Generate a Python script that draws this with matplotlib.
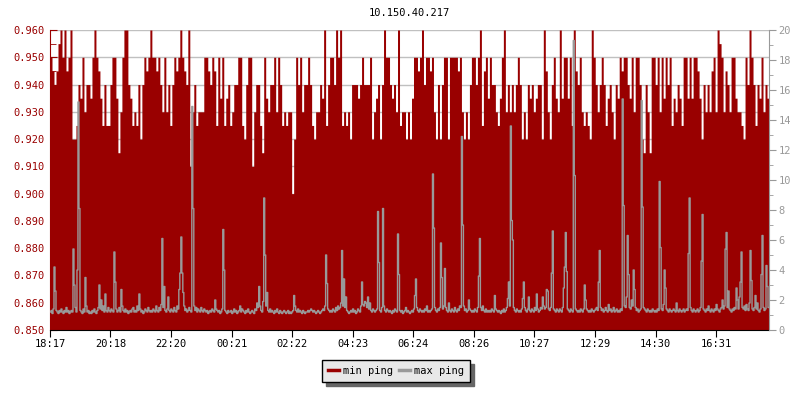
import numpy as np
import matplotlib
matplotlib.use('Agg')
import matplotlib.pyplot as plt
from matplotlib.lines import Line2D
from matplotlib.ticker import MultipleLocator, FormatStrFormatter

plt.rcParams['font.family'] = 'DejaVu Sans Mono'
plt.rcParams['font.size'] = 7.5

# --- datos ---
host = '10.150.40.217'
start_time = '18:17'
min_step = 4   # min ping: un punto cada 4 minutos
max_step = 2   # max ping: un punto cada 2 minutos
time_labels = ['18:17', '20:18', '22:20', '00:21', '02:22', '04:23',
               '06:24', '08:26', '10:27', '12:29', '14:30', '16:31']

# min ping (ms), eje izquierdo
min_ping = [
    0.950, 0.945, 0.940, 0.945, 0.955, 0.960, 0.950, 0.960, 0.945, 0.950,
    0.960, 0.920, 0.920, 0.925, 0.940, 0.935, 0.950, 0.930, 0.940, 0.940,
    0.935, 0.950, 0.960, 0.950, 0.945, 0.935, 0.925, 0.940, 0.925, 0.925,
    0.940, 0.950, 0.950, 0.935, 0.915, 0.930, 0.950, 0.960, 0.960, 0.940,
    0.935, 0.925, 0.930, 0.925, 0.940, 0.920, 0.940, 0.950, 0.945, 0.950,
    0.960, 0.950, 0.950, 0.945, 0.950, 0.940, 0.930, 0.950, 0.930, 0.940,
    0.925, 0.940, 0.950, 0.945, 0.950, 0.960, 0.950, 0.945, 0.940, 0.960,
    0.910, 0.930,
    0.940, 0.925, 0.930, 0.930, 0.930, 0.950, 0.950, 0.945, 0.940, 0.950,
    0.945, 0.925, 0.950, 0.935, 0.950, 0.925, 0.935, 0.940, 0.925, 0.930,
    0.940, 0.940, 0.950, 0.950, 0.925, 0.920, 0.940, 0.950, 0.950, 0.910,
    0.930, 0.940, 0.940, 0.925, 0.915, 0.950, 0.935, 0.930, 0.940, 0.940,
    0.950, 0.930, 0.950, 0.940, 0.925, 0.930, 0.925, 0.930, 0.930, 0.900,
    0.920, 0.950, 0.940, 0.950, 0.930, 0.940, 0.940, 0.950, 0.940, 0.925,
    0.920, 0.930, 0.930, 0.940, 0.935, 0.960, 0.925, 0.940, 0.950, 0.950,
    0.940, 0.960,
    0.950, 0.960, 0.925, 0.930, 0.925, 0.930, 0.920, 0.940, 0.940, 0.940,
    0.935, 0.940, 0.950, 0.940, 0.940, 0.940, 0.950, 0.920, 0.930, 0.935,
    0.940, 0.920, 0.940, 0.960, 0.950, 0.950, 0.940, 0.935, 0.940, 0.930,
    0.960, 0.925, 0.930, 0.930, 0.920, 0.930, 0.920, 0.935, 0.950, 0.950,
    0.945, 0.950, 0.960, 0.940, 0.950, 0.950, 0.945, 0.950, 0.930, 0.920,
    0.940, 0.920, 0.940, 0.950, 0.950, 0.920, 0.950, 0.950, 0.950, 0.950,
    0.945, 0.950, 0.930, 0.920, 0.930, 0.920, 0.940, 0.950, 0.950, 0.940,
    0.950, 0.960,
    0.925, 0.945, 0.950, 0.935, 0.950, 0.940, 0.940, 0.930, 0.925, 0.935,
    0.950, 0.960, 0.930, 0.940, 0.930, 0.940, 0.930, 0.940, 0.950, 0.940,
    0.920, 0.930, 0.920, 0.940, 0.935, 0.940, 0.930, 0.935, 0.940, 0.940,
    0.920, 0.960, 0.945, 0.930, 0.920, 0.940, 0.950, 0.935, 0.930, 0.960,
    0.935, 0.950, 0.950, 0.935, 0.950, 0.925, 0.960, 0.945, 0.940, 0.950,
    0.930, 0.925, 0.930, 0.925, 0.920, 0.960, 0.950, 0.940, 0.930, 0.940,
    0.950, 0.940, 0.925, 0.935, 0.940, 0.930, 0.920, 0.940, 0.935, 0.950,
    0.945, 0.950,
    0.950, 0.940, 0.935, 0.950, 0.930, 0.950, 0.950, 0.940, 0.920, 0.915,
    0.940, 0.930, 0.915, 0.950, 0.950, 0.940, 0.950, 0.930, 0.950, 0.935,
    0.950, 0.940, 0.950, 0.925, 0.935, 0.930, 0.940, 0.935, 0.925, 0.950,
    0.950, 0.935, 0.950, 0.935, 0.950, 0.950, 0.945, 0.935, 0.920, 0.940,
    0.930, 0.940, 0.930, 0.945, 0.950, 0.930, 0.960, 0.955, 0.950, 0.930,
    0.945, 0.940, 0.930, 0.950, 0.950, 0.935, 0.930, 0.930, 0.925, 0.920,
    0.950, 0.940, 0.960, 0.950, 0.940, 0.925, 0.940, 0.935, 0.950, 0.930,
    0.940, 0.935,
]

# max ping (ms), eje derecho
max_ping = [
    1.2, 1.3, 1.1, 1.4, 4.2, 2.6, 1.3, 1.2, 1.1, 1.3, 1.2, 1.4, 1.2, 1.1, 1.3, 1.2, 1.5, 1.2, 1.3, 1.1,
    1.2, 1.3, 1.2, 5.4, 3.0, 1.5, 1.2, 4.0, 15.2, 8.1, 1.3, 1.2, 1.1, 1.4, 1.2, 3.5, 1.6, 1.2, 1.3, 1.1,
    1.2, 1.1, 1.3, 1.2, 1.4, 1.2, 1.1, 1.3, 1.5, 3.0, 1.4, 2.0, 1.3, 1.6, 1.2, 2.4, 1.3, 1.2, 1.5, 1.3,
    1.2, 1.4, 1.3, 1.2, 5.2, 3.2, 1.4, 1.2, 1.3, 1.5, 1.2, 2.7, 1.6, 1.3, 1.2, 1.4, 1.2, 1.3, 1.1, 1.2,
    1.3, 1.2, 1.4, 1.5, 1.2, 1.3, 1.2, 1.6, 1.3, 2.4, 1.4, 1.2, 1.3, 1.1, 1.2, 1.4, 1.3, 1.2, 1.5, 1.3,
    1.2, 1.3, 1.2, 1.4, 1.3, 1.2, 1.6, 1.3, 1.2, 1.5, 1.3, 1.7, 6.1, 1.5, 2.9, 1.3, 1.2, 1.4, 2.2, 1.3,
    1.2, 1.4, 1.3, 1.2, 1.5, 1.3, 1.2, 1.6, 1.4, 2.7, 3.8, 6.2, 3.8, 2.5, 1.6, 1.3, 1.4, 1.2, 1.3, 1.5,
    1.3, 1.2, 14.9, 8.1, 1.6, 1.3, 1.5, 1.2, 1.4, 1.3, 1.2, 1.5, 1.3, 1.2, 1.4, 1.3, 1.2, 1.3, 1.1, 1.2,
    1.3, 1.2, 1.4, 1.3, 1.2, 2.0, 1.4, 1.3, 1.2, 1.3, 1.1, 1.2, 1.4, 6.7, 4.0, 1.3, 1.2, 1.1, 1.3, 1.2,
    1.2, 1.3, 1.1, 1.2, 1.4, 1.2, 1.3, 1.1, 1.2, 1.3, 1.6, 1.2, 1.4, 1.3, 1.2, 1.1, 1.3, 1.2, 1.4, 1.2,
    1.1, 1.2, 1.3, 1.2, 1.1, 1.4, 1.3, 1.8, 1.5, 2.9, 1.6, 1.3, 1.2, 1.9, 8.8, 5.0, 1.6, 2.5, 1.3, 1.2,
    1.4, 1.2, 1.3, 1.2, 1.1, 1.3, 1.2, 1.4, 1.2, 1.1, 1.3, 1.2, 1.1, 1.2, 1.3, 1.2, 1.1, 1.2, 1.3, 1.1,
    1.2, 1.1, 1.2, 1.3, 2.3, 1.6, 1.3, 1.2, 1.4, 1.2, 1.3, 1.2, 1.1, 1.3, 1.2, 1.1, 1.2, 1.2, 1.3, 1.2,
    1.3, 1.4, 1.3, 1.2, 1.3, 1.2, 1.1, 1.2, 1.3, 1.2, 1.1, 1.2, 1.3, 1.4, 1.3, 1.6, 5.0, 3.1, 1.4, 1.3,
    1.2, 1.3, 1.2, 1.4, 1.3, 1.2, 1.5, 1.3, 1.6, 1.4, 1.5, 1.8, 5.3, 1.6, 3.4, 1.5, 2.2, 1.3, 1.2, 1.1,
    1.2, 1.3, 1.2, 1.4, 1.2, 1.3, 1.1, 1.2, 1.4, 1.3, 1.2, 1.6, 3.2, 1.7, 1.6, 1.9, 1.8, 1.5, 2.2, 1.4,
    1.8, 1.3, 1.2, 1.4, 1.3, 1.2, 1.3, 1.4, 7.9, 4.5, 1.3, 1.2, 1.5, 8.1, 1.6, 1.3, 1.2, 1.4, 1.3, 1.2,
    1.3, 1.2, 1.1, 1.3, 1.2, 1.4, 1.3, 1.2, 6.4, 3.7, 1.3, 1.2, 1.3, 1.1, 1.2, 1.3, 1.5, 1.2, 1.3, 1.2,
    1.1, 1.2, 1.3, 1.2, 1.4, 2.3, 3.4, 1.5, 1.3, 1.2, 1.4, 1.3, 1.2, 1.3, 1.2, 1.4, 1.3, 1.6, 1.2, 1.3,
    1.2, 1.3, 1.4, 10.4, 6.8, 1.5, 1.3, 1.2, 1.4, 1.3, 1.5, 5.8, 3.5, 1.4, 1.6, 4.1, 1.5, 1.3, 1.2, 1.8,
    1.3, 1.2, 1.4, 1.3, 1.2, 1.5, 1.3, 1.2, 1.4, 1.3, 1.6, 1.5, 12.9, 7.0, 1.6, 1.3, 1.4, 1.2, 1.3, 2.0,
    1.4, 1.3, 1.2, 1.3, 1.2, 1.4, 1.3, 1.2, 1.5, 3.6, 6.1, 1.5, 1.3, 1.6, 1.3, 1.2, 1.4, 1.2, 1.3, 1.2,
    1.3, 1.2, 1.4, 1.3, 1.2, 2.3, 1.4, 1.3, 1.2, 1.3, 1.2, 1.1, 1.3, 1.2, 1.4, 1.2, 1.3, 1.5, 2.1, 3.2,
    1.6, 13.6, 7.3, 6.0, 1.5, 1.3, 1.2, 1.4, 1.3, 1.2, 1.3, 1.2, 1.4, 2.1, 3.2, 1.5, 1.3, 1.2, 1.4, 2.2,
    1.3, 1.2, 1.4, 1.3, 1.2, 1.5, 1.3, 2.4, 1.4, 1.2, 1.3, 1.5, 1.4, 2.2, 1.6, 1.4, 1.5, 2.7, 2.6, 1.4,
    1.3, 1.5, 3.8, 6.6, 1.4, 1.3, 1.2, 1.4, 1.3, 1.2, 1.4, 1.3, 1.2, 1.5, 2.8, 4.2, 6.5, 3.9, 1.4, 1.3,
    1.2, 1.4, 1.3, 1.2, 19.3, 10.3, 1.4, 1.3, 1.2, 1.3, 1.2, 1.4, 1.3, 1.2, 1.4, 3.0, 2.0, 1.4, 1.3, 1.2,
    1.3, 1.2, 1.4, 1.3, 1.2, 1.3, 1.4, 1.5, 1.3, 3.2, 5.3, 1.5, 1.3, 1.4, 1.2, 1.3, 1.5, 1.3, 1.2, 1.7,
    1.3, 1.4, 1.2, 1.3, 1.5, 1.2, 1.3, 1.4, 1.2, 1.3, 1.2, 1.4, 1.3, 15.4, 8.3, 1.6, 1.5, 2.2, 6.3, 3.7,
    1.5, 1.4, 2.0, 1.6, 4.0, 2.7, 1.5, 1.3, 1.4, 1.2, 1.3, 1.4, 15.3, 8.2, 1.5, 1.4, 1.3, 1.2, 1.4, 1.3,
    1.2, 1.3, 1.2, 1.4, 1.3, 1.2, 1.3, 1.2, 1.4, 1.3, 9.9, 5.5, 1.4, 1.3, 1.7, 4.0, 2.8, 1.4, 1.3, 1.2,
    1.4, 1.3, 1.2, 1.3, 1.4, 1.3, 1.2, 1.8, 1.3, 1.2, 1.4, 1.3, 1.2, 1.3, 1.4, 1.2, 1.3, 1.4, 1.3, 5.1,
    8.8, 1.5, 1.3, 1.2, 1.4, 1.3, 1.2, 1.3, 1.4, 1.2, 1.3, 1.5, 4.6, 7.7, 1.4, 1.3, 1.2, 1.4, 1.3, 1.6,
    1.3, 1.2, 1.4, 1.3, 1.2, 1.4, 1.3, 1.7, 1.4, 1.3, 1.2, 1.4, 1.5, 2.0, 1.4, 1.6, 5.4, 6.5, 1.5, 2.6,
    1.4, 1.3, 1.2, 1.4, 1.3, 1.5, 1.4, 2.8, 2.0, 1.4, 2.2, 3.2, 5.2, 1.5, 1.4, 1.6, 1.3, 1.7, 1.4, 1.3,
    1.8, 5.3, 3.3, 1.4, 1.3, 1.5, 2.3, 1.4, 1.8, 1.3, 1.2, 1.4, 3.7, 6.3, 1.5, 1.3, 1.4, 4.3, 2.9, 1.5,
]

RED = '#990000'
GRAY = '#999999'


def minutos(label):
    h, m = map(int, label.split(':'))
    h0, m0 = map(int, start_time.split(':'))
    return (h * 60 + m - (h0 * 60 + m0)) % 1440


n_min = len(min_ping)
n_max = len(max_ping)
x_min = np.arange(n_min + 1) * min_step
x_max = np.arange(n_max + 1) * max_step
y_min = np.append(min_ping, min_ping[-1])
y_max = np.append(max_ping, max_ping[-1])

fig = plt.figure(figsize=(8, 4), dpi=100)
ax = fig.add_axes([50 / 800, 70 / 400, 719 / 800, 300 / 400])

ax.fill_between(x_min, y_min, 0.85, step='post', color=RED, lw=0, zorder=2)
ax.set_xlim(0, n_min * min_step)
ax.set_ylim(0.85, 0.96)
ax.yaxis.set_major_locator(MultipleLocator(0.01))
ax.yaxis.set_minor_locator(MultipleLocator(0.005))
ax.yaxis.set_major_formatter(FormatStrFormatter('%.3f'))
ax.grid(axis='y', color='#c0c0c0', lw=1, zorder=1)
ax.set_axisbelow(True)
ax.tick_params(axis='y', which='both', direction='in', color=RED, labelcolor=RED, pad=4)
ax.tick_params(axis='y', which='major', length=5)
ax.tick_params(axis='y', which='minor', length=4)
ax.set_xticks([minutos(t) for t in time_labels], time_labels)
ax.tick_params(axis='x', direction='out', length=5, color='black', pad=1.5)

ax2 = ax.twinx()
ax2.step(x_max, y_max, where='post', color=GRAY, lw=1)
ax2.set_xlim(0, n_max * max_step)
ax2.set_ylim(0, 20)
ax2.yaxis.set_major_locator(MultipleLocator(2))
ax2.yaxis.set_minor_locator(MultipleLocator(1))
ax2.tick_params(axis='y', which='both', direction='out', color=GRAY, labelcolor=GRAY, pad=2)
ax2.tick_params(axis='y', which='major', length=5)
ax2.tick_params(axis='y', which='minor', length=3)

for a in (ax, ax2):
    a.spines['top'].set_visible(False)
ax.spines['right'].set_visible(False)
ax.spines['left'].set_color(RED)
ax2.spines['left'].set_visible(False)
ax2.spines['bottom'].set_visible(False)
ax2.spines['right'].set_color(GRAY)

fig.text(409.5 / 800, 1 - 13 / 400, host, ha='center', va='center', color='black')

handles = [Line2D([], [], color=RED, lw=2.5), Line2D([], [], color=GRAY, lw=2.5)]
leg = fig.legend(handles, ['min ping', 'max ping'], loc='center left',
                 bbox_to_anchor=(322 / 800, 1 - 371 / 400), ncol=2, frameon=True,
                 fancybox=False, facecolor='#e8e8e8', edgecolor='black', framealpha=1,
                 shadow={'color': '#666666', 'alpha': 1, 'ox': 3, 'oy': -3},
                 borderpad=0.6, handlelength=1.0, handletextpad=0.4,
                 columnspacing=0.6, borderaxespad=0)
leg.get_frame().set_linewidth(1.0)

fig.savefig('out.png', dpi=100)
